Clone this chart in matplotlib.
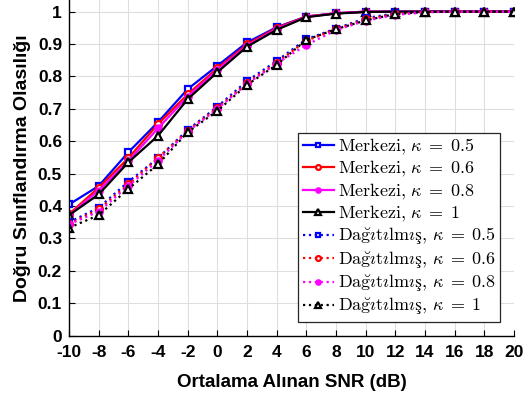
import matplotlib
matplotlib.use("Agg")
import matplotlib.pyplot as plt

snr = [-10, -8, -6, -4, -2, 0, 2, 4, 6, 8, 10, 12, 14, 16, 18, 20]

merkezi_05 = [0.405, 0.462, 0.566, 0.659, 0.761, 0.833, 0.905, 0.952, 0.985, 0.995, 1.0, 1.0, 1.0, 1.0, 1.0, 1.0]
merkezi_06 = [0.375, 0.457, 0.548, 0.653, 0.745, 0.825, 0.899, 0.950, 0.985, 0.995, 1.0, 1.0, 1.0, 1.0, 1.0, 1.0]
merkezi_08 = [0.372, 0.448, 0.539, 0.640, 0.738, 0.820, 0.895, 0.947, 0.984, 0.995, 1.0, 1.0, 1.0, 1.0, 1.0, 1.0]
merkezi_1 = [0.372, 0.436, 0.535, 0.617, 0.730, 0.813, 0.892, 0.944, 0.983, 0.994, 0.999, 1.0, 1.0, 1.0, 1.0, 1.0]

dagitilmis_05 = [0.350, 0.395, 0.475, 0.548, 0.635, 0.707, 0.786, 0.848, 0.915, 0.948, 0.980, 0.995, 1.0, 1.0, 1.0, 1.0]
dagitilmis_06 = [0.345, 0.390, 0.467, 0.548, 0.633, 0.703, 0.780, 0.843, 0.910, 0.946, 0.976, 0.993, 0.999, 1.0, 1.0, 1.0]
dagitilmis_08 = [0.344, 0.383, 0.462, 0.540, 0.630, 0.700, 0.777, 0.840, 0.897, 0.943, 0.972, 0.990, 0.998, 1.0, 1.0, 1.0]
dagitilmis_1 = [0.333, 0.372, 0.453, 0.529, 0.628, 0.694, 0.774, 0.836, 0.913, 0.946, 0.973, 0.993, 0.999, 1.0, 1.0, 1.0]

kappas = ["0.5", "0.6", "0.8", "1"]
x_ticks = [-10, -8, -6, -4, -2, 0, 2, 4, 6, 8, 10, 12, 14, 16, 18, 20]
y_ticks = [0, 0.1, 0.2, 0.3, 0.4, 0.5, 0.6, 0.7, 0.8, 0.9, 1.0]
y_tick_labels = ["0", "0.1", "0.2", "0.3", "0.4", "0.5", "0.6", "0.7", "0.8", "0.9", "1"]

plt.rcParams["mathtext.fontset"] = "cm"

fig = plt.figure(figsize=(5.31, 4.03), dpi=100)
ax = fig.add_axes([69 / 531, 1 - 335.7 / 403, 445 / 531, 335.7 / 403])

colors = ["#0000ff", "#ff0000", "#ff00ff", "#000000"]
markers = ["s", "o", ".", "^"]
mfc = ["white", "white", "#ff00ff", "white"]
msize = [5, 5, 9, 6]

solid = [merkezi_05, merkezi_06, merkezi_08, merkezi_1]
dotted = [dagitilmis_05, dagitilmis_06, dagitilmis_08, dagitilmis_1]

for i in range(4):
    ax.plot(snr, solid[i], color=colors[i], ls="-", lw=1.6, marker=markers[i],
            ms=msize[i], mfc=mfc[i], mec=colors[i], mew=1.6,
            label=r"$\mathrm{Merkezi},\,\kappa\;=\;%s$" % kappas[i])
for i in range(4):
    ax.plot(snr, dotted[i], color=colors[i], ls=":", lw=1.6, marker=markers[i],
            ms=msize[i], mfc=mfc[i], mec=colors[i], mew=1.6,
            label=r"$\mathrm{Da\breve{g}\imath t\imath lm\imath ş},\,\kappa\;=\;%s$" % kappas[i])

ax.set_xlim(-10, 20)
ax.set_ylim(0, 1.036)
ax.set_xticks(x_ticks)
ax.set_xticklabels([str(v) for v in x_ticks])
ax.set_yticks(y_ticks)
ax.set_yticklabels(y_tick_labels)
ax.grid(True, color="#dedede", lw=0.8)
ax.set_axisbelow(True)
for s in ["top", "right"]:
    ax.spines[s].set_visible(False)
for s in ["left", "bottom"]:
    ax.spines[s].set_linewidth(1.0)
ax.tick_params(direction="in", length=4, width=0.8)
ax.tick_params(axis="x", pad=7)
ax.tick_params(axis="y", pad=5)
for lab in ax.get_xticklabels() + ax.get_yticklabels():
    lab.set_fontfamily("Liberation Sans")
    lab.set_fontweight("bold")
    lab.set_fontsize(12.5)

ax.set_xlabel("Ortalama Alınan SNR (dB)", fontfamily="Liberation Sans",
              fontweight="bold", fontsize=13.5, labelpad=10)
ax.set_ylabel("Doğru Sınıflandırma Olasılığı", fontfamily="Liberation Sans",
              fontweight="bold", fontsize=14, labelpad=5)

leg = ax.legend(loc="lower right", bbox_to_anchor=(0.969, 0.041),
                borderaxespad=0, fancybox=False, framealpha=1,
                edgecolor="#262626", handlelength=1.75, handletextpad=0.2,
                labelspacing=0.12, borderpad=0.25, markerscale=0.7,
                prop={"size": 13})
leg.get_frame().set_linewidth(0.9)

fig.savefig("out.png", dpi=100)
